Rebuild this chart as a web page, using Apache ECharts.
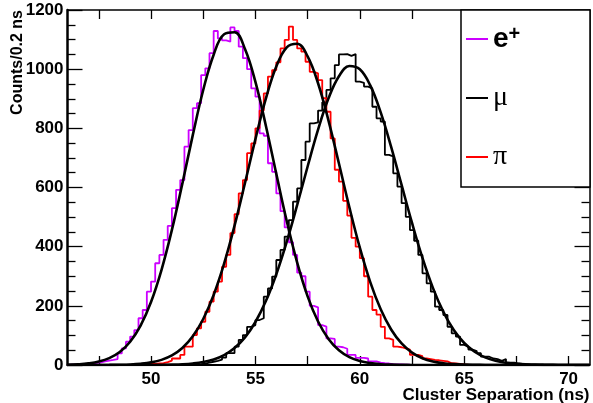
<!DOCTYPE html>
<html><head><meta charset="utf-8">
<script src="https://cdn.jsdelivr.net/npm/echarts@6/dist/echarts.min.js"></script>
<style>html,body{margin:0;padding:0;background:#fff}#c{width:593px;height:403px}</style>
</head><body><div id="c"></div>
<script>
// ---- data ----
const binWidth = 0.2;

// e+ histogram: first bin edge and counts per 0.2 ns bin
const ePosFirstEdge = 46.0;
const ePosCounts = [
  1, 1, 2, 2, 3, 5, 7, 9, 12, 15,
  17, 20, 39, 56, 79, 96, 118, 158, 186, 248,
  282, 344, 372, 423, 470, 530, 592, 625, 738, 794,
  868, 885, 980, 1003, 1054, 1129, 1104, 1097, 1093, 1141,
  1129, 1076, 1037, 1000, 935, 907, 783, 775, 682, 653,
  580, 520, 465, 415, 372, 312, 300, 248, 200, 195,
  135, 130, 90, 88, 62, 60, 55, 34, 34, 24,
  24, 22, 12, 12, 8, 6, 5, 3, 2, 2, 1, 1
];

// pi histogram
const piFirstEdge = 49.0;
const piCounts = [
  1, 1, 2, 3, 4, 4, 5, 6, 10, 15,
  22, 22, 34, 62, 62, 101, 124, 146, 180, 214,
  248, 282, 332, 372, 446, 510, 580, 625, 716, 749,
  800, 860, 918, 975, 997, 1023, 1070, 1099, 1144, 1099,
  1070, 1059, 1025, 991, 986, 963, 902, 856, 766, 660,
  620, 555, 505, 430, 400, 361, 300, 231, 186, 170,
  129, 90, 85, 62, 60, 56, 52, 34, 34, 30,
  22, 20, 17, 16, 14, 12, 6, 5, 4, 2, 1
];

// mu histogram
const muFirstEdge = 51.8;
const muCounts = [
  1, 2, 3, 5, 8, 11, 14, 18, 25, 40,
  40, 62, 85, 101, 129, 135, 152, 158, 231, 259,
  299, 355, 389, 434, 490, 552, 597, 693, 755, 817,
  820, 860, 888, 930, 969, 1014, 1050, 1051, 1045, 1051,
  958, 954, 941, 935, 873, 834, 823, 710, 705, 648,
  603, 547, 501, 456, 420, 372, 310, 276, 248, 197,
  186, 169, 129, 107, 96, 68, 62, 52, 47, 40,
  28, 28, 22, 20, 14, 20, 8, 8, 5, 4,
  3, 2, 2, 1, 1
];

// fitted curves, sampled every 0.5 ns
const fitX = [46, 46.5, 47, 47.5, 48, 48.5, 49, 49.5, 50, 50.5, 51, 51.5, 52, 52.5, 53, 53.5, 54, 54.5, 55, 55.5,
  56, 56.5, 57, 57.5, 58, 58.5, 59, 59.5, 60, 60.5, 61, 61.5, 62, 62.5, 63, 63.5, 64, 64.5, 65, 65.5,
  66, 66.5, 67, 67.5, 68, 68.5, 69, 69.5, 70, 70.5, 71];
const ePosFit = [1.0, 2.4, 5.4, 11.5, 23.2, 44, 78.8, 133.4, 213, 321, 456.6, 613, 777, 929.5, 1049, 1118, 1124.8, 1068, 956.8, 809,
  646, 486.6, 346, 232, 147, 88, 49.6, 26.4, 13.3, 6.3, 2.8, 1.2, 0.5, 0.2, 0.1, 0, 0, 0, 0, 0,
  0, 0, 0, 0, 0, 0, 0, 0, 0, 0, 0];
const piFit = [0, 0, 0.05, 0.1, 0.35, 0.85, 1.9, 4.3, 8.8, 17.3, 32.3, 57.4, 96.9, 155.4, 236.8, 342.5, 470.9, 615.2, 763.6, 900.3,
  1008.7, 1073.6, 1085.8, 1043.4, 952.4, 826.1, 680.9, 533, 396.6, 280.3, 188.2, 120, 72.8, 41.9, 22.9, 11.9, 5.9, 2.8, 1.2, 0.5,
  0.2, 0, 0, 0, 0, 0, 0, 0, 0, 0, 0];
const muFit = [0, 0, 0, 0, 0, 0, 0, 0, 0.2, 0.5, 1.2, 2.5, 5.2, 10.1, 18.9, 33.7, 57.4, 93.4, 145.3, 216,
  306.9, 416.8, 541, 671, 795.6, 901.5, 976.3, 1010.5, 999.5, 945, 853.8, 737.3, 608.6, 480.1, 361.9, 260.8, 179.6, 118.2, 74.4, 44.7,
  25.7, 14.1, 7.4, 3.7, 1.8, 0.8, 0.4, 0.2, 0.1, 0, 0];

const xLabelValues = [50, 55, 60, 65, 70];
const xTickValues = [47.5, 50, 52.5, 55, 57.5, 60, 62.5, 65, 67.5, 70];
const seriesNames = ['e+', 'μ', 'π'];
const seriesColors = ['#cc00ff', '#000000', '#ff0000'];

// ---- build ----
function histPoints(firstEdge, counts) {
  const pts = [[firstEdge, 0]];
  counts.forEach((c, i) => pts.push([+(firstEdge + i * binWidth).toFixed(2), c]));
  pts.push([+(firstEdge + counts.length * binWidth).toFixed(2), 0]);
  return pts;
}
function fitPoints(ys) { return fitX.map((x, i) => [x, ys[i]]); }

function histSeries(name, color, firstEdge, counts) {
  return {
    type: 'line', name: name, step: 'end', symbol: 'none', clip: true,
    data: histPoints(firstEdge, counts),
    itemStyle: { color: color },
    lineStyle: { color: color, width: 1.8 },
    z: 2
  };
}
function fitSeries(name, ys) {
  return {
    type: 'line', name: name, smooth: 0.4, symbol: 'none', clip: true,
    data: fitPoints(ys),
    itemStyle: { color: '#000' },
    lineStyle: { color: '#000', width: 2.6 },
    z: 3
  };
}

const FONT = 'Liberation Sans, Arial, Helvetica, sans-serif';
const labelStyle = { color: '#000', fontFamily: FONT, fontWeight: 'bold', fontSize: 17 };
const plain = v => String(v);

const chart = echarts.init(document.getElementById('c'), null, { renderer: 'canvas' });
chart.setOption({
  animation: false,
  backgroundColor: '#fff',
  grid: { left: 67.5, right: 3.5, top: 10, bottom: 38, outerBoundsMode: 'none', containLabel: false },
  legend: {
    data: seriesNames,
    orient: 'vertical', left: 461, top: 10,
    padding: [14, 7, 15, 5],
    itemGap: 29, itemWidth: 22, itemHeight: 2, icon: 'rect',
    backgroundColor: '#fff', borderColor: '#000', borderWidth: 1.5, borderRadius: 0,
    selectedMode: false,
    formatter: function (name) {
      if (name === 'e+') return '{e|e}{sup|+}';
      return '{g|' + name + '}';
    },
    textStyle: {
      width: 90, height: 30, lineHeight: 30, color: '#000',
      rich: {
        e: { fontFamily: FONT, fontWeight: 'bold', fontSize: 28, lineHeight: 30, color: '#000' },
        sup: { fontFamily: FONT, fontWeight: 'bold', fontSize: 20, lineHeight: 30, verticalAlign: 'top', color: '#000' },
        g: { fontFamily: 'Liberation Serif, Times New Roman, serif', fontSize: 28, lineHeight: 30, color: '#000' }
      }
    }
  },
  xAxis: [
    {
      type: 'value', position: 'bottom', min: 46, max: 71,
      axisLine: { show: true, onZero: false, lineStyle: { color: '#000', width: 2 } },
      axisTick: { show: true, inside: true, length: 9, customValues: xTickValues, lineStyle: { color: '#000', width: 1.3 } },
      axisLabel: Object.assign({ customValues: xLabelValues, margin: 6, formatter: plain }, labelStyle),
      splitLine: { show: false },
      name: 'Cluster Separation (ns)', nameLocation: 'end', nameGap: 0, nameMoveOverlap: false,
      nameTextStyle: Object.assign({ align: 'right', verticalAlign: 'top', padding: [22, 0, 0, 0] }, labelStyle)
    },
    {
      type: 'value', position: 'top', min: 46, max: 71,
      axisLine: { show: true, onZero: false, lineStyle: { color: '#000', width: 1.5 } },
      axisTick: { show: true, inside: true, length: 9, customValues: xTickValues, lineStyle: { color: '#000', width: 1.3 } },
      axisLabel: { show: false },
      splitLine: { show: false }
    }
  ],
  yAxis: [
    {
      type: 'value', position: 'left', min: 0, max: 1200, interval: 200,
      axisLine: { show: true, onZero: false, lineStyle: { color: '#000', width: 2.5 } },
      axisTick: { show: true, inside: true, length: 15, lineStyle: { color: '#000', width: 1.3 } },
      minorTick: { show: true, splitNumber: 4, length: 8, lineStyle: { color: '#000', width: 1.3 } },
      axisLabel: Object.assign({ margin: 4, formatter: plain }, labelStyle),
      splitLine: { show: false }, minorSplitLine: { show: false },
      name: 'Counts/0.2 ns', nameLocation: 'end', nameGap: 0, nameRotate: 90, nameMoveOverlap: false,
      nameTextStyle: Object.assign({ align: 'right', verticalAlign: 'bottom', padding: [0, 0, 42, 0] }, labelStyle, { fontSize: 16 })
    },
    {
      type: 'value', position: 'right', min: 0, max: 1200, interval: 200,
      axisLine: { show: true, onZero: false, lineStyle: { color: '#000', width: 1.5 } },
      axisTick: { show: true, inside: true, length: 15, lineStyle: { color: '#000', width: 1.3 } },
      minorTick: { show: true, splitNumber: 4, length: 8, lineStyle: { color: '#000', width: 1.3 } },
      axisLabel: { show: false },
      splitLine: { show: false }, minorSplitLine: { show: false }
    }
  ],
  series: [
    histSeries(seriesNames[0], seriesColors[0], ePosFirstEdge, ePosCounts),
    histSeries(seriesNames[1], seriesColors[1], muFirstEdge, muCounts),
    histSeries(seriesNames[2], seriesColors[2], piFirstEdge, piCounts),
    fitSeries('e+ fit', ePosFit),
    fitSeries('μ fit', muFit),
    fitSeries('π fit', piFit)
  ]
});
</script></body></html>
